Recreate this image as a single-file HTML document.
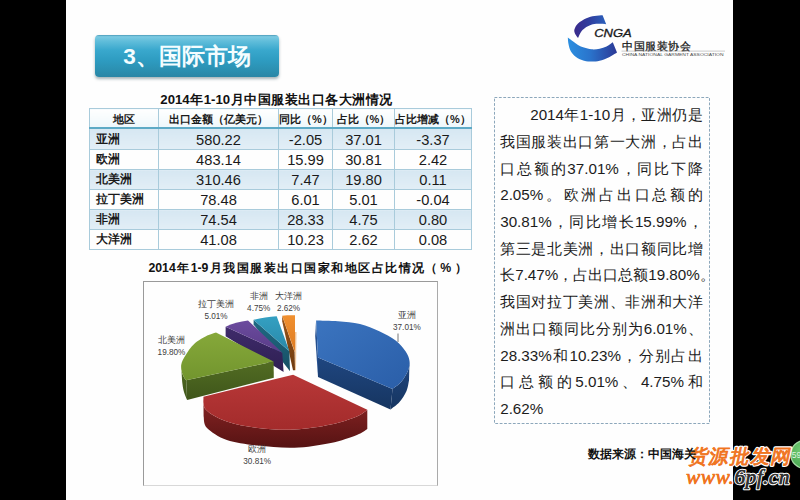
<!DOCTYPE html>
<html lang="zh">
<head>
<meta charset="utf-8">
<title>3、国际市场</title>
<style>
html,body{margin:0;padding:0;}
body{width:800px;height:500px;background:#000;position:relative;overflow:hidden;font-family:"Liberation Sans",sans-serif;color:#111;}
.abs{position:absolute;}
#slide{position:absolute;left:66px;top:0;width:667px;height:500px;background:#fefefe;}
#titlebtn{position:absolute;left:95px;top:35px;width:184px;height:42px;border-radius:4px;
  background:linear-gradient(to bottom,#4a9ab8 0%,#7ccae2 4%,#62bedb 14%,#39a8cd 36%,#2e9cc1 60%,#2b8fb0 85%,#2a86a5 100%);
  box-shadow:0 2px 3px rgba(60,90,100,.45);
  color:#f4fdff;font-weight:bold;font-size:22.6px;line-height:43px;text-align:center;white-space:nowrap;overflow:hidden;}
#t1{position:absolute;left:160.3px;top:91px;width:232px;text-align:justify;text-align-last:justify;font-weight:bold;font-size:13.2px;line-height:18px;white-space:nowrap;color:#111;}
#t2{position:absolute;left:148.4px;top:258.5px;width:275.6px;text-align:justify;text-align-last:justify;font-weight:bold;font-size:12.3px;line-height:18px;white-space:nowrap;color:#111;}
#t2b{position:absolute;left:424.5px;top:258.5px;width:42.3px;text-align:justify;text-align-last:justify;font-weight:bold;font-size:12.3px;line-height:18px;white-space:nowrap;color:#111;}
table#tb{position:absolute;left:89px;top:108px;width:382px;border-collapse:collapse;table-layout:fixed;}
#tb td,#tb th{height:18px;padding:1px 0 0 0;border:1px solid #a9cbdb;text-align:center;font-size:14.67px;line-height:18px;font-weight:normal;color:#1a1a1a;white-space:nowrap;overflow:hidden;}
#tb th{font-family:"Liberation Sans",sans-serif;font-weight:bold;font-size:11px;background:linear-gradient(to bottom,#ffffff,#eef7fb);border-bottom:2px solid #5eaac6;height:16px;line-height:16px;padding-top:2px;}
#tb td.l{font-family:"Liberation Sans",sans-serif;font-weight:bold;font-size:11.5px;text-align:left;padding-left:6px;line-height:16px;vertical-align:top;}
#tb tr.first td{padding-top:2px;}
#tb tr.a td{background:linear-gradient(to bottom,#d6e7f2,#e2eef6);}
#tb tr.b td{background:#fefefe;}
#chartbox{position:absolute;left:143px;top:281px;width:293px;height:203px;border:1px solid #9a9a9a;border-right-color:#aaa;border-bottom-color:#d8d8d8;background:#fefefe;box-sizing:content-box;}
.lab{position:absolute;width:60px;text-align:center;font-size:9.2px;line-height:12px;color:#404040;white-space:nowrap;}
.lab span{font-size:8.2px;}
#txt{position:absolute;left:500.2px;top:102.1px;width:202.6px;font-size:15.2px;line-height:26.73px;color:#1c1c1c;}
#txt div{white-space:nowrap;text-align:justify;text-align-last:justify;height:26.73px;}
#src{position:absolute;left:587.5px;top:446.3px;width:99.7px;font-size:11.6px;font-weight:bold;line-height:16px;white-space:nowrap;color:#111;text-align:justify;text-align-last:justify;}
</style>
</head>
<body>
<div id="slide"></div>

<div id="titlebtn">3、国际市场</div>

<div id="t1">2014年1-10月中国服装出口各大洲情况</div>
<table id="tb">
<colgroup><col style="width:69px"><col style="width:120px"><col style="width:54px"><col style="width:62px"><col style="width:77px"></colgroup>
<tr><th>地区</th><th>出口金额（亿美元）</th><th>同比（%）</th><th>占比（%）</th><th>占比增减（%）</th></tr>
<tr class="a first"><td class="l">亚洲</td><td>580.22</td><td>-2.05</td><td>37.01</td><td>-3.37</td></tr>
<tr class="b"><td class="l">欧洲</td><td>483.14</td><td>15.99</td><td>30.81</td><td>2.42</td></tr>
<tr class="a"><td class="l">北美洲</td><td>310.46</td><td>7.47</td><td>19.80</td><td>0.11</td></tr>
<tr class="b"><td class="l">拉丁美洲</td><td>78.48</td><td>6.01</td><td>5.01</td><td>-0.04</td></tr>
<tr class="a"><td class="l">非洲</td><td>74.54</td><td>28.33</td><td>4.75</td><td>0.80</td></tr>
<tr class="b"><td class="l">大洋洲</td><td>41.08</td><td>10.23</td><td>2.62</td><td>0.08</td></tr>
</table>

<div id="t2">2014年1-9月我国服装出口国家和地区占比情况</div><div id="t2b">（%）</div>
<div id="chartbox"></div>
<!--PIE-START-->
<svg id="ov" width="800" height="500" viewBox="0 0 800 500" style="position:absolute;left:0;top:0">
<defs>
<linearGradient id="gb" x1="0" y1="0" x2="1" y2="1"><stop offset="0" stop-color="#3b74bf"/><stop offset="1" stop-color="#2a5ea8"/></linearGradient>
<linearGradient id="gbs" x1="0" y1="0" x2="0" y2="1"><stop offset="0" stop-color="#1f4680"/><stop offset="1" stop-color="#163560"/></linearGradient>
<linearGradient id="gr" x1="0" y1="0" x2="0" y2="1"><stop offset="0" stop-color="#b83838"/><stop offset="1" stop-color="#a32b2b"/></linearGradient>
<linearGradient id="grs" x1="0" y1="0" x2="0" y2="1"><stop offset="0" stop-color="#8a2424"/><stop offset="1" stop-color="#561313"/></linearGradient>
<linearGradient id="gg" x1="0" y1="0" x2="0" y2="1"><stop offset="0" stop-color="#86a83a"/><stop offset="1" stop-color="#72952e"/></linearGradient>
<linearGradient id="ggs" x1="0" y1="0" x2="0" y2="1"><stop offset="0" stop-color="#526c23"/><stop offset="1" stop-color="#3f561a"/></linearGradient>
<linearGradient id="gp" x1="0" y1="0" x2="0" y2="1"><stop offset="0" stop-color="#6c4b9e"/><stop offset="1" stop-color="#593c88"/></linearGradient>
<linearGradient id="gps" x1="0" y1="0" x2="0" y2="1"><stop offset="0" stop-color="#3f2b6b"/><stop offset="1" stop-color="#2e1f52"/></linearGradient>
<linearGradient id="gt" x1="0" y1="0" x2="0" y2="1"><stop offset="0" stop-color="#34a0c2"/><stop offset="1" stop-color="#2988a8"/></linearGradient>
<linearGradient id="gts" x1="0" y1="0" x2="0" y2="1"><stop offset="0" stop-color="#1f6a84"/><stop offset="1" stop-color="#174f63"/></linearGradient>
<linearGradient id="go" x1="0" y1="0" x2="0" y2="1"><stop offset="0" stop-color="#f09030"/><stop offset="1" stop-color="#dd7a20"/></linearGradient>
<linearGradient id="gos" x1="0" y1="0" x2="0" y2="1"><stop offset="0" stop-color="#9a5518"/><stop offset="1" stop-color="#6e3a0e"/></linearGradient>
<linearGradient id="lg1" x1="0" y1="0" x2="1" y2="0"><stop offset="0" stop-color="#3b2a8c"/><stop offset="0.5" stop-color="#2f3f9f"/><stop offset="1" stop-color="#2b62bd"/></linearGradient>
<linearGradient id="lg2" x1="0" y1="0" x2="1" y2="0"><stop offset="0" stop-color="#2b8fe0"/><stop offset="0.45" stop-color="#2a74cc"/><stop offset="1" stop-color="#2b3896"/></linearGradient>
<radialGradient id="gc" cx="0.4" cy="0.35" r="0.75"><stop offset="0" stop-color="#74cc74"/><stop offset="1" stop-color="#3f9f4a"/></radialGradient>
</defs>
<g id="pie">
<path fill="#e8a25a" opacity=".6" d="M295,332 L296.5,332 L296,370.3 L295,370.3 Z"/>
<path fill="url(#gos)" d="M282.2,315.7 L294.6,352 L295,370.3 L293,370.3 L282.2,321.2 Z"/>
<path fill="url(#go)" d="M282.2,315.7 C286,315.4 290.5,315.2 295,315.3 L295,352.5 Z"/>
<path fill="url(#gts)" d="M253.6,319.8 L289.4,351.3 L290,371.2 L253.6,324.6 Z"/>
<path fill="url(#gt)" d="M253.6,319.8 C261,317.9 269,316.7 276.7,316.3 L289.4,351.3 Z"/>
<path fill="url(#gps)" d="M225.6,326.8 L282.3,352.7 L283.6,372 L225.6,336.2 Z"/>
<path fill="url(#gp)" d="M225.6,326.8 C232,323.4 240,321.3 248,320.4 L282.3,352.7 Z"/>
<path fill="url(#ggs)" d="M181.2,365.0 C181.2,365.8 181.2,368.4 181.4,370.0 C181.6,371.6 182.1,373.0 182.6,374.3 C183.1,375.6 183.6,376.8 184.2,377.8 C184.8,378.8 185.9,379.9 186.2,380.3 L187.1,400 C186.6,398.8 185.1,395.8 184.3,393.0 C183.5,390.2 182.9,388.2 182.4,383.5 C181.9,378.8 181.4,368.1 181.2,365.0 Z"/>
<path fill="url(#ggs)" d="M186.2,380.3 L273.6,361.6 L273.8,377.8 L187.1,400 Z"/>
<path fill="url(#gg)" d="M273.6,361.6 L216.0,332.6 C214.3,333.2 209.2,334.7 206.0,336.2 C202.8,337.7 199.6,339.6 197.0,341.6 C194.4,343.6 192.3,345.9 190.5,348.0 C188.7,350.1 187.5,352.2 186.2,354.2 C184.9,356.2 183.6,358.2 182.8,360.0 C182.0,361.8 181.4,363.3 181.2,365.0 C181.0,366.7 181.2,368.4 181.4,370.0 C181.6,371.6 182.1,373.0 182.6,374.3 C183.1,375.6 183.6,376.8 184.2,377.8 C184.8,378.8 185.9,379.9 186.2,380.3 Z"/>
<path fill="url(#gbs)" d="M409.5,361.0 C409.2,362.6 409.3,367.1 408.0,370.5 C406.7,373.9 404.1,378.4 401.5,381.5 C398.9,384.6 394.0,387.7 392.5,388.9 L390.5,409.5 C392.0,408.2 396.8,405.1 399.5,402.0 C402.2,398.9 404.9,394.6 406.5,391.0 C408.1,387.4 408.6,382.2 409.0,380.5 Z"/>
<path fill="url(#gbs)" d="M318.0,357.6 L392.5,388.9 L390.5,409.5 L318.0,377.0 Z"/>
<path fill="#244f8f" d="M315.2,336 L316.1,320.4 L318,357.6 L318,377 Z"/>
<path fill="url(#gb)" d="M316.1,320.4 C319.8,320.5 330.7,320.6 338.0,321.2 C345.3,321.8 353.1,322.3 360.0,324.0 C366.9,325.7 373.3,328.4 379.3,331.2 C385.3,334.0 391.6,337.4 396.0,340.8 C400.4,344.2 403.4,348.2 405.7,351.6 C407.9,355.0 409.1,357.9 409.5,361.0 C409.9,364.1 409.3,367.1 408.0,370.5 C406.7,373.9 404.1,378.4 401.5,381.5 C398.9,384.6 394.0,387.7 392.5,388.9 L318.0,357.6 Z"/>
<path fill="url(#grs)" d="M203.4,396.8 C203.8,399.0 202.1,405.7 206.0,409.8 C209.9,413.9 218.1,418.5 226.8,421.5 C235.5,424.5 246.7,426.6 258.0,428.0 C269.3,429.4 282.3,430.2 294.4,429.6 C306.5,429.0 320.4,426.8 330.8,424.6 C341.2,422.4 350.8,419.0 356.9,416.5 C363.0,414.0 365.6,410.9 367.3,409.8 L367.3,429.0 C365.6,430.0 363.0,432.7 356.9,435.0 C350.8,437.3 341.2,440.9 330.8,443.0 C320.4,445.1 306.5,447.4 294.4,447.8 C282.3,448.2 269.3,446.9 258.0,445.6 C246.7,444.3 235.3,442.9 226.8,440.0 C218.3,437.1 210.9,431.9 207.0,428.0 C203.1,424.1 204.2,418.2 203.6,416.3 Z"/>
<path fill="url(#gr)" d="M293.1,374.7 L203.4,396.8 C203.8,399.0 202.1,405.7 206.0,409.8 C209.9,413.9 218.1,418.5 226.8,421.5 C235.5,424.5 246.7,426.6 258.0,428.0 C269.3,429.4 282.3,430.2 294.4,429.6 C306.5,429.0 320.4,426.8 330.8,424.6 C341.2,422.4 350.8,419.0 356.9,416.5 C363.0,414.0 365.6,410.9 367.3,409.8 Z"/>
<rect x="494.5" y="97.5" width="215" height="326" fill="none" stroke="#7f9db3" stroke-width="0.9" stroke-dasharray="2.8 1.6"/>
<path stroke="#555" stroke-width="0.8" fill="none" d="M398,333.5 L398,342"/>
<path fill="url(#lg1)" d="M578.0,38.0 C577.5,37.3 575.8,35.4 575.2,34.0 C574.6,32.6 573.9,31.4 574.4,29.6 C574.9,27.9 576.0,25.4 578.0,23.5 C580.0,21.6 583.6,19.4 586.4,18.2 C589.1,16.9 591.8,16.5 594.5,16.0 C597.2,15.5 601.2,15.3 602.6,15.2 L606.2,24.2 C604.8,24.1 600.5,23.7 598.0,23.8 C595.5,23.9 593.4,24.1 591.2,24.8 C589.0,25.5 586.7,26.8 585.0,28.0 C583.3,29.2 582.2,30.3 581.0,32.0 C579.8,33.7 578.5,37.0 578.0,38.0 Z"/>
<path fill="url(#lg2)" d="M567.8,37.4 C567.9,38.6 568.1,42.2 568.6,44.5 C569.1,46.8 569.6,49.1 570.8,51.2 C572.0,53.3 573.8,55.4 576.0,57.0 C578.2,58.6 581.3,60.0 584.0,60.8 C586.7,61.6 589.4,61.6 592.0,61.6 C594.6,61.6 596.9,61.5 599.6,60.8 C602.4,60.1 605.6,58.9 608.5,57.5 C611.4,56.1 615.6,53.2 617.0,52.4 L612.8,42.2 C611.8,42.9 608.7,45.4 606.5,46.5 C604.3,47.6 602.1,48.3 599.6,48.8 C597.1,49.3 594.1,49.5 591.5,49.3 C588.9,49.1 586.2,48.3 584.0,47.6 C581.8,46.9 579.8,46.0 578.0,45.0 C576.2,44.0 574.9,42.9 573.2,41.6 C571.5,40.3 568.7,38.1 567.8,37.4 Z"/>
<text x="594.2" y="37.4" font-family="Liberation Sans, sans-serif" font-style="italic" font-size="10.2" textLength="37.5" lengthAdjust="spacingAndGlyphs" fill="#1a1a1a" stroke="#1a1a1a" stroke-width="0.3">CNGA</text>
<text x="622" y="49.6" font-family="Liberation Sans, sans-serif" font-size="10.6" textLength="69" lengthAdjust="spacing" fill="#151515" stroke="#151515" stroke-width="0.25">中国服装协会</text>
<path d="M621.5,51.1 H725" stroke="#a8a8a8" stroke-width="0.6" fill="none"/>
<text x="622" y="56.3" font-family="Liberation Sans, sans-serif" font-size="4.3" textLength="101.5" lengthAdjust="spacingAndGlyphs" fill="#4a4a4a">CHINA NATIONAL GARMENT ASSOCIATION</text>
<circle cx="804.8" cy="454.4" r="14" fill="url(#gc)" stroke="#a5dba5" stroke-width="1.3"/>
<text x="791.8" y="457.6" font-family="Liberation Sans, sans-serif" font-size="8.5" fill="#dff5df">59</text>
<text transform="translate(687.5,463) skewX(-12)" x="0" y="0" font-family="Liberation Sans, sans-serif" font-size="19.5" textLength="102.5" lengthAdjust="spacing" fill="#ffffff" stroke="#ffffff" stroke-width="3.2" stroke-linejoin="round">货源批发网</text>
<text transform="translate(687.5,463) skewX(-12)" x="0" y="0" font-family="Liberation Sans, sans-serif" font-size="19.5" textLength="102.5" lengthAdjust="spacing" fill="#f0741e" stroke="#f0741e" stroke-width="0.9" stroke-linejoin="round">货源批发网</text>
<text x="686" y="484" font-family="Liberation Serif, serif" font-style="italic" font-size="21.5" textLength="103.5" lengthAdjust="spacing" stroke="#ffffff" stroke-width="2.6" paint-order="stroke" stroke-linejoin="round"><tspan fill="#f0741e">www.</tspan><tspan fill="#333">6pf.cn</tspan></text>
<text x="686" y="484" font-family="Liberation Serif, serif" font-style="italic" font-size="21.5" textLength="103.5" lengthAdjust="spacing" stroke-width="0.5"><tspan fill="#f0741e" stroke="#f0741e">www.</tspan><tspan fill="#333" stroke="#333">6pf.cn</tspan></text>
</g>
</svg>
<!--PIE-END-->
<div class="lab" style="left:376.9px;top:308.9px">亚洲<br><span>37.01%</span></div>
<div class="lab" style="left:227.2px;top:442.8px">欧洲<br><span>30.81%</span></div>
<div class="lab" style="left:141.5px;top:334.0px">北美洲<br><span>19.80%</span></div>
<div class="lab" style="left:186.0px;top:298.4px">拉丁美洲<br><span>5.01%</span></div>
<div class="lab" style="left:228.7px;top:290.2px">非洲<br><span>4.75%</span></div>
<div class="lab" style="left:258.5px;top:290.2px">大洋洲<br><span>2.62%</span></div>

<div id="txt">
<div style="padding-left:30px;width:172.6px">2014年1-10月，亚洲仍是</div>
<div>我国服装出口第一大洲，占出</div>
<div>口总额的37.01%，同比下降</div>
<div>2.05%。欧洲占出口总额的</div>
<div>30.81%，同比增长15.99%，</div>
<div>第三是北美洲，出口额同比增</div>
<div style="width:210.5px">长7.47%，占出口总额19.80%。</div>
<div>我国对拉丁美洲、非洲和大洋</div>
<div>洲出口额同比分别为6.01%、</div>
<div>28.33%和10.23%，分别占出</div>
<div>口总额的5.01%、4.75%和</div>
<div style="text-align-last:left">2.62%</div>
</div>

<div id="src">数据来源：中国海关</div>
</body>
</html>
